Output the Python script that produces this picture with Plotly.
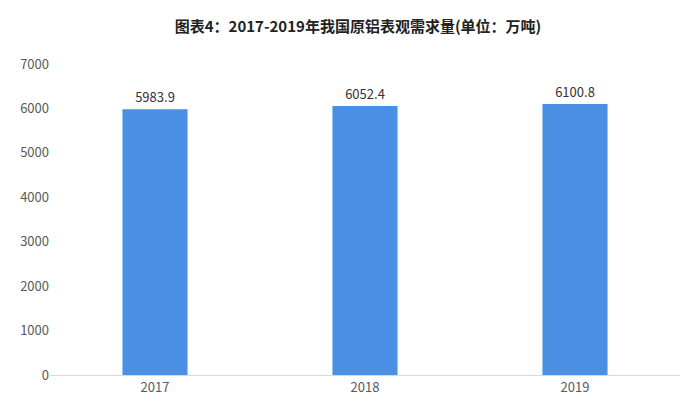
import plotly.graph_objects as go

years = ["2017", "2018", "2019"]
demand = [5983.9, 6052.4, 6100.8]
y_ticks = [0, 1000, 2000, 3000, 4000, 5000, 6000, 7000]

BAR = "#4a8fe3"
INK = "#333333"
MUTED = "#595959"

fig = go.Figure(go.Bar(
    x=years, y=demand,
    marker=dict(color=BAR, line=dict(width=0)),
    text=[f"{v:.1f}" for v in demand],
    textposition="outside",
    textfont=dict(color=INK, size=13),
    cliponaxis=False,
))

fig.update_layout(
    title=dict(text="<b>图表4：2017-2019年我国原铝表观需求量(单位：万吨)</b>",
               x=0.5, xanchor="center", y=0.955, yanchor="middle",
               font=dict(size=15, color="#222222",
                         family='"Noto Sans CJK SC", sans-serif')),
    font=dict(family='"Noto Sans CJK SC", "DejaVu Sans", sans-serif',
              color=MUTED, size=13),
    paper_bgcolor="white",
    plot_bgcolor="white",
    width=700, height=417,
    margin=dict(l=42, r=28, t=56, b=50),
    bargap=0.69,
    showlegend=False,
)
fig.update_xaxes(showgrid=False, showline=True, linecolor="#d9d9d9",
                 ticks="", tickfont=dict(color=MUTED, size=13))
fig.update_yaxes(range=[0, 7000], tickvals=y_ticks, showgrid=False,
                 zeroline=False, showline=False,
                 tickfont=dict(color=MUTED, size=13))

fig.write_html("out.html")
